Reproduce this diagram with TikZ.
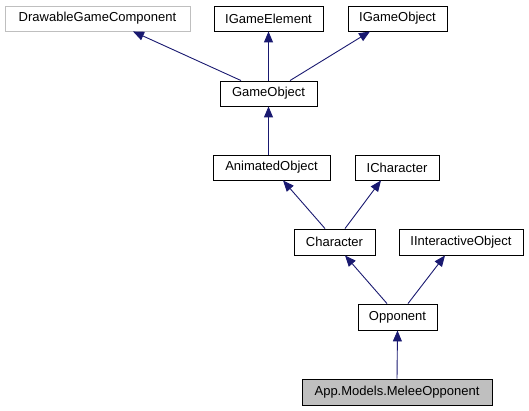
\documentclass[tikz,border=0pt]{standalone}
\usepackage{fontspec}
\setmainfont{Liberation Sans}
\usetikzlibrary{arrows.meta}
\definecolor{edgecolor}{RGB}{25,25,112}
\definecolor{extgray}{RGB}{191,191,191}
\tikzset{
  cls/.style     = {draw=black, fill=white, line width=0.9pt, minimum height=25pt,
                    inner sep=0pt, font=\fontsize{13}{15}\selectfont},
  extcls/.style  = {cls, draw=extgray},
  thiscls/.style = {cls, fill=extgray},
  inherit/.style = {-{Triangle[length=11pt,width=9pt]}, line width=0.9pt, color=edgecolor},
}
\begin{document}
\begin{tikzpicture}[x=1pt, y=-1pt]
\useasboundingbox (0,0) rectangle (529,411);

% bases
\node[extcls, minimum width=185pt] (drawable) at (97.5,18.5) {DrawableGameComponent};
\node[cls, minimum width=109pt] (igameelement) at (268.5,18.5) {IGameElement};
\node[cls, minimum width=99pt] (igameobject) at (397.5,18.5) {IGameObject};

\node[cls, minimum width=97pt] (gameobject) at (268.5,93.5) {GameObject};

\node[cls, minimum width=117pt] (animated) at (271.5,167.5) {AnimatedObject};
\node[cls, minimum width=84pt] (icharacter) at (397,167.5) {ICharacter};

\node[cls, minimum width=81pt, minimum height=26pt] (character) at (334.5,242) {Character};
\node[cls, minimum width=124pt, minimum height=26pt] (iinteractive) at (461,242) {IInteractiveObject};

\node[cls, minimum width=79pt, minimum height=26pt] (opponent) at (397.5,317) {Opponent};

\node[thiscls, minimum width=190pt, minimum height=26pt] (melee) at (397,392) {App.Models.MeleeOpponent};

% inheritance
\draw[inherit] ([xshift=-27.5pt]gameobject.north) -- ([xshift=35.5pt]drawable.south);
\draw[inherit] (gameobject.north) -- (igameelement.south);
\draw[inherit] ([xshift=21.5pt]gameobject.north) -- ([xshift=-27.5pt]igameobject.south);
\draw[inherit] ([xshift=-3pt]animated.north) -- (gameobject.south);
\draw[inherit] ([xshift=-9.5pt]character.north) -- ([xshift=11.5pt]animated.south);
\draw[inherit] ([xshift=10.5pt]character.north) -- ([xshift=-16pt]icharacter.south);
\draw[inherit] ([xshift=-10.5pt]opponent.north) -- ([xshift=10.5pt]character.south);
\draw[inherit] ([xshift=10.5pt]opponent.north) -- ([xshift=-16pt]iinteractive.south);
\draw[inherit] (melee.north) -- (opponent.south);

\end{tikzpicture}
\end{document}
